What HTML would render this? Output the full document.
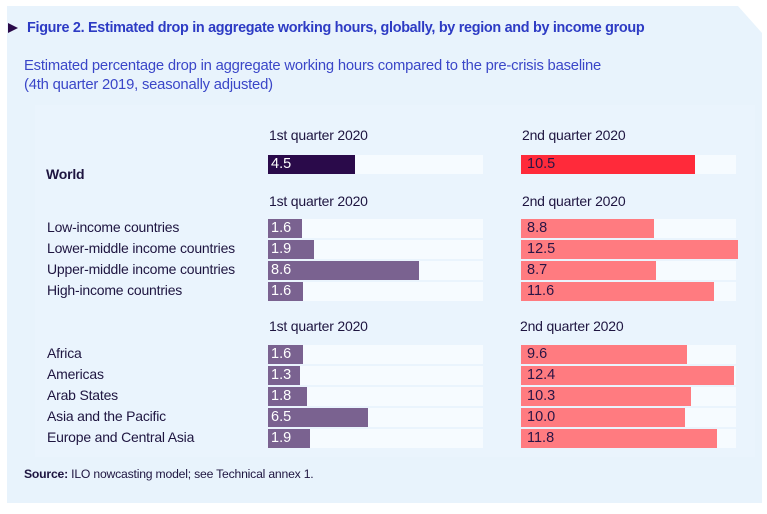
<!DOCTYPE html>
<html><head><meta charset="utf-8"><style>
body{margin:0;width:767px;height:514px;background:#fff;position:relative;overflow:hidden;font-family:"Liberation Sans",sans-serif}
.a{position:absolute;white-space:nowrap}
.l{font-size:14px;color:#1e1540;letter-spacing:-0.2px}
.h{font-size:14px;color:#1e1540;letter-spacing:-0.2px}
.t{position:absolute;height:19px;background:#f6fbff;width:215px}
.b{position:absolute;height:19px;font-size:14.5px;line-height:19px;padding-left:3px;box-sizing:border-box}
.p{background:#7a6290;color:#fff}
.r{background:#ff7b80;color:#2a1545;padding-left:6px}
</style></head><body>
<svg class="a" style="left:0;top:0" width="767" height="514"><polygon points="7,6 738,6 762,33 762,503 7,503" fill="#e8f3fc"/><rect x="35" y="105" width="720" height="352" fill="#eaf4fd"/><polygon points="8,23 18,28 8,33" fill="#2a0a4a"/></svg>
<div class="a" style="left:27px;top:20px;font-size:14.4px;font-weight:bold;color:#2d3bc4;letter-spacing:-0.3px">Figure 2. Estimated drop in aggregate working hours, globally, by region and by income group</div>
<div class="a" style="left:24px;top:57px;font-size:14.8px;color:#3a46c8;line-height:19px;letter-spacing:-0.2px">Estimated percentage drop in aggregate working hours compared to the pre-crisis baseline<br>(4th quarter 2019, seasonally adjusted)</div>

<div class="a h" style="left:269px;top:127px">1st quarter 2020</div>
<div class="a h" style="left:522px;top:127px">2nd quarter 2020</div>
<div class="a l" style="left:46px;top:166px;font-weight:bold">World</div>
<div class="t" style="left:268px;top:155px"></div><div class="b" style="left:268px;top:155px;width:87px;background:#2a0a4a;color:#fff">4.5</div>
<div class="t" style="left:521px;top:155px"></div><div class="b" style="left:521px;top:155px;width:174px;background:#ff2a3a;color:#2a1545;padding-left:6px">10.5</div>

<div class="a h" style="left:269px;top:193px">1st quarter 2020</div>
<div class="a h" style="left:522px;top:193px">2nd quarter 2020</div>

<div class="a h" style="left:269px;top:318px">1st quarter 2020</div>
<div class="a h" style="left:520px;top:318px">2nd quarter 2020</div>

<div class="a l" style="left:47px;top:219px">Low-income countries</div>
<div class="a l" style="left:47px;top:240px">Lower-middle income countries</div>
<div class="a l" style="left:47px;top:261px">Upper-middle income countries</div>
<div class="a l" style="left:47px;top:282px">High-income countries</div>
<div class="t" style="left:268px;top:219px"></div><div class="b p" style="left:268px;top:219px;width:34px">1.6</div>
<div class="t" style="left:268px;top:240px"></div><div class="b p" style="left:268px;top:240px;width:46px">1.9</div>
<div class="t" style="left:268px;top:261px"></div><div class="b p" style="left:268px;top:261px;width:151px">8.6</div>
<div class="t" style="left:268px;top:282px"></div><div class="b p" style="left:268px;top:282px;width:35px">1.6</div>
<div class="t" style="left:521px;top:219px"></div><div class="b r" style="left:521px;top:219px;width:133px">8.8</div>
<div class="t" style="left:521px;top:240px"></div><div class="b r" style="left:521px;top:240px;width:217px">12.5</div>
<div class="t" style="left:521px;top:261px"></div><div class="b r" style="left:521px;top:261px;width:135px">8.7</div>
<div class="t" style="left:521px;top:282px"></div><div class="b r" style="left:521px;top:282px;width:193px">11.6</div>

<div class="a l" style="left:47px;top:345px">Africa</div>
<div class="a l" style="left:47px;top:366px">Americas</div>
<div class="a l" style="left:47px;top:387px">Arab States</div>
<div class="a l" style="left:47px;top:408px">Asia and the Pacific</div>
<div class="a l" style="left:47px;top:429px">Europe and Central Asia</div>
<div class="t" style="left:268px;top:345px"></div><div class="b p" style="left:268px;top:345px;width:35px">1.6</div>
<div class="t" style="left:268px;top:366px"></div><div class="b p" style="left:268px;top:366px;width:32px">1.3</div>
<div class="t" style="left:268px;top:387px"></div><div class="b p" style="left:268px;top:387px;width:39px">1.8</div>
<div class="t" style="left:268px;top:408px"></div><div class="b p" style="left:268px;top:408px;width:100px">6.5</div>
<div class="t" style="left:268px;top:429px"></div><div class="b p" style="left:268px;top:429px;width:42px">1.9</div>
<div class="t" style="left:521px;top:345px"></div><div class="b r" style="left:521px;top:345px;width:166px">9.6</div>
<div class="t" style="left:521px;top:366px"></div><div class="b r" style="left:521px;top:366px;width:213px">12.4</div>
<div class="t" style="left:521px;top:387px"></div><div class="b r" style="left:521px;top:387px;width:170px">10.3</div>
<div class="t" style="left:521px;top:408px"></div><div class="b r" style="left:521px;top:408px;width:164px">10.0</div>
<div class="t" style="left:521px;top:429px"></div><div class="b r" style="left:521px;top:429px;width:196px">11.8</div>

<div class="a" style="left:24px;top:467px;font-size:12.2px;color:#1e1540;letter-spacing:-0.2px"><b>Source:</b> ILO nowcasting model; see Technical annex 1.</div>
</body></html>
